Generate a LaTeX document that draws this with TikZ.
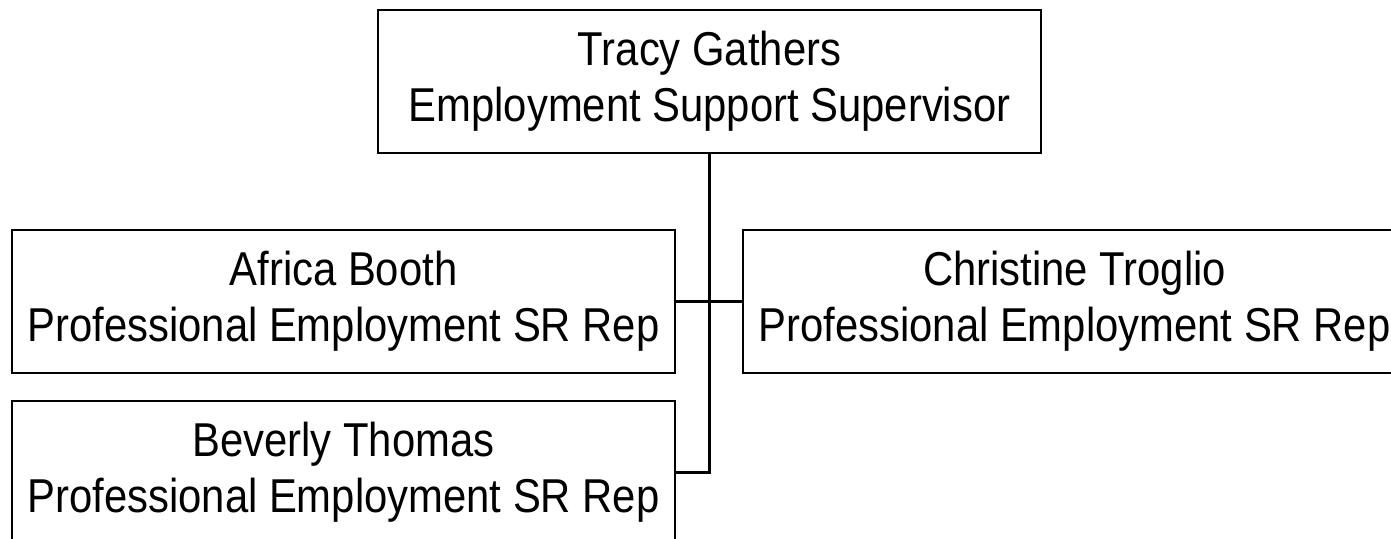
\documentclass[tikz,border=0pt]{standalone}
\usepackage{fontspec}
\setmainfont[FakeStretch=0.88]{Liberation Sans}
\usepackage{tikz}
\usetikzlibrary{calc}

\begin{document}
\begin{tikzpicture}[x=.5pt, y=-.5pt, line width=1.3pt,
	staff/.style={draw, minimum width=331.5pt, minimum height=71.5pt, inner sep=0pt, align=center,
		font=\fontsize{23.75pt}{28pt}\selectfont}]
	\useasboundingbox (0,0) rectangle (1391,539);
	\coordinate (T) at (709.5,81.5);
	\coordinate (A) at (343.5,301.5);
	\coordinate (C) at (1074.5,301.5);
	\coordinate (B) at (343.5,472.5);
	\node (sup) at (T) [staff] {Tracy Gathers\\Employment Support Supervisor};
	\node (africa) at (A) [staff] {Africa Booth\\Professional Employment SR Rep};
	\node (christine) at (C) [staff] {Christine Troglio\\Professional Employment SR Rep};
	\node (beverly) at (B) [staff] {Beverly Thomas\\Professional Employment SR Rep};
	\draw (sup.south) -- (sup.south |- beverly.east) -- (beverly.east);
	\draw (africa.east) -- (christine.west);
\end{tikzpicture}
\end{document}
